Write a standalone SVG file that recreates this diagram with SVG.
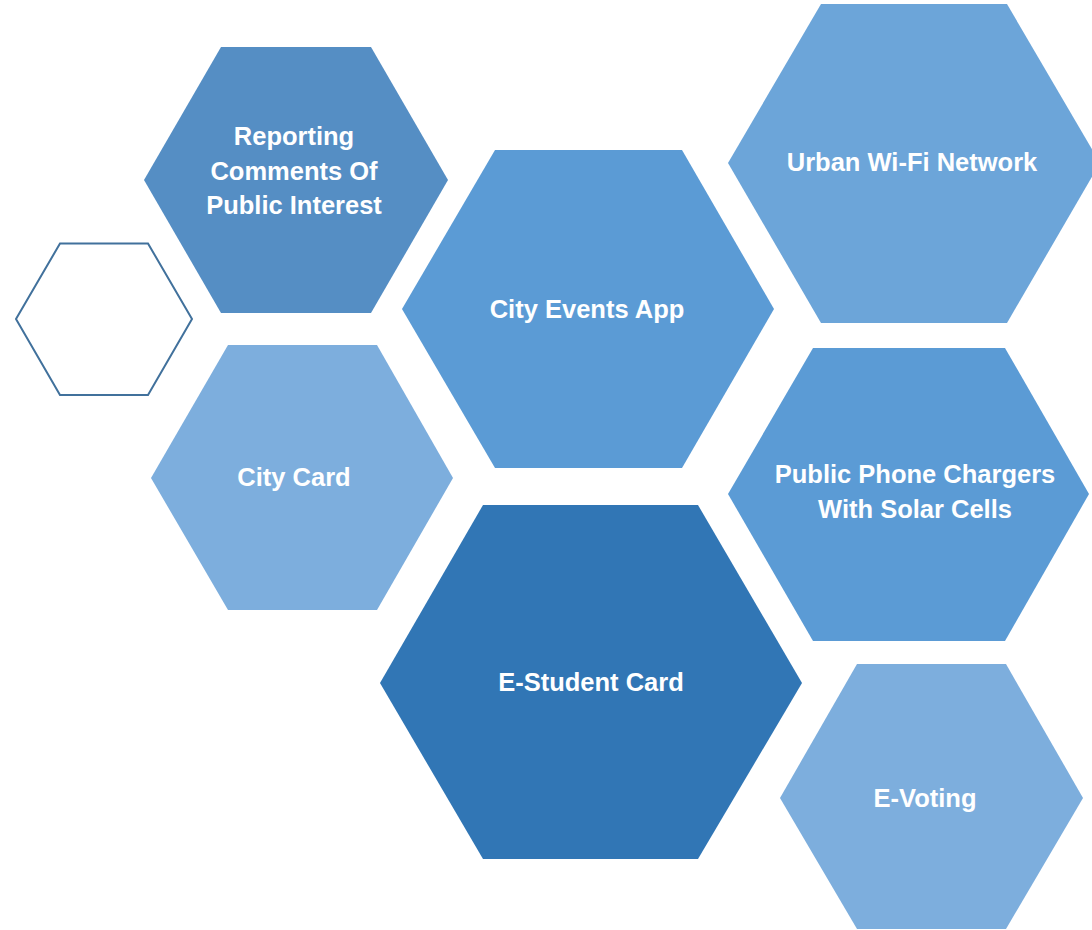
<svg xmlns="http://www.w3.org/2000/svg" width="1092" height="930" viewBox="0 0 1092 930">
<style>
.lbl{font-family:"Liberation Sans",Arial,sans-serif;font-weight:bold;font-size:25.5px;fill:#ffffff;text-anchor:middle}
</style>
<rect width="1092" height="930" fill="#ffffff"/>
<g id="outline-hex">
<polygon points="60,243.5 148,243.5 192,319 148,395 60,395 16,319" fill="none" stroke="#41719c" stroke-width="2"/>
</g>
<g id="reporting">
<polygon points="221,47 371,47 448,180 371,313 221,313 144,180" fill="#558ec4"/>
<text class="lbl" x="294" y="145">Reporting</text>
<text class="lbl" x="294" y="180">Comments Of</text>
<text class="lbl" x="294" y="214">Public Interest</text>
</g>
<g id="city-events">
<polygon points="495,150 682,150 774,309 682,468 495,468 402,309" fill="#5b9bd5"/>
<text class="lbl" x="587" y="318">City Events App</text>
</g>
<g id="urban-wifi">
<polygon points="821,4 1007,4 1100,163 1007,323 821,323 728,163" fill="#6ca5d9"/>
<text class="lbl" x="912" y="171">Urban Wi-Fi Network</text>
</g>
<g id="city-card">
<polygon points="228,345 377,345 453,478 377,610 228,610 151,478" fill="#7daedd"/>
<text class="lbl" x="294" y="486">City Card</text>
</g>
<g id="phone-chargers">
<polygon points="813,348 1005,348 1089,494 1005,641 813,641 728,494" fill="#5b9bd5"/>
<text class="lbl" x="915" y="483">Public Phone Chargers</text>
<text class="lbl" x="915" y="518">With Solar Cells</text>
</g>
<g id="e-student">
<polygon points="483,505 698,505 802,683 698,859 483,859 380,683" fill="#3176b5"/>
<text class="lbl" x="591" y="691">E-Student Card</text>
</g>
<g id="e-voting">
<polygon points="857,664 1006,664 1083,798 1006,929 857,929 780,798" fill="#7daedd"/>
<text class="lbl" x="925" y="807">E-Voting</text>
</g>
<g id="connectors"></g>
</svg>
